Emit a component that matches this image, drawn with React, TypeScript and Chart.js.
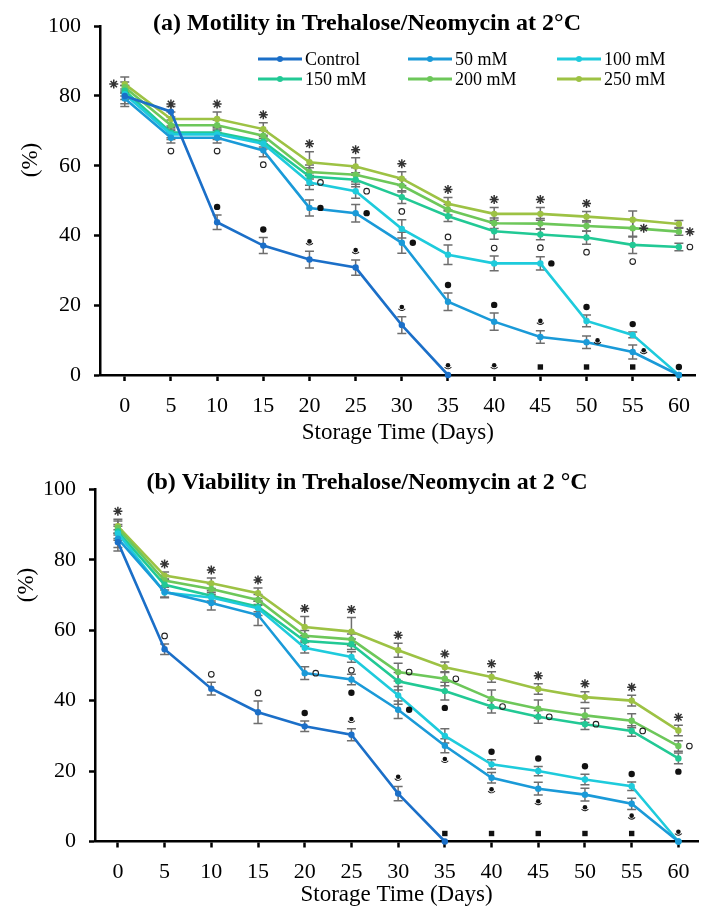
import React, { useEffect, useRef } from 'react';
import { Chart, registerables } from 'chart.js';

Chart.register(...registerables);

const FONT = "'Liberation Serif', 'Times New Roman', Times, serif";

// ---------------- data ----------------
const days = [0, 5, 10, 15, 20, 25, 30, 35, 40, 45, 50, 55, 60];
const seriesNames = ['Control', '50 mM', '100 mM', '150 mM', '200 mM', '250 mM'];
const seriesColors = ['#1b6fc8', '#1a9ad8', '#1ecbdc', '#22c995', '#6dc75a', '#9dc244'];
const yTicks = [0, 20, 40, 60, 80, 100];

// (a) Motility
const motControl = [80, 75.5, 43.8, 37.1, 33.1, 30.8, 14.3, 0, null, null, null, null, null];
const mot50 = [79.3, 68, 68, 64.4, 47.9, 46.4, 37.9, 21, 15.3, 10.9, 9.4, 6.6, 0];
const mot100 = [80.5, 69, 69, 66.3, 55.2, 52.7, 41.9, 34.5, 32, 32, 15.5, 11.5, 0];
const mot150 = [81.5, 69.5, 69.5, 66.9, 56.9, 56, 51, 45.5, 41.2, 40.3, 39.4, 37.3, 36.7];
const mot200 = [82.5, 71.6, 71.6, 68.6, 58.2, 57.4, 54.3, 47.4, 43.5, 43.4, 42.7, 42.1, 41.1];
const mot250 = [83.4, 73.4, 73.4, 70.5, 61, 59.8, 56.3, 49.1, 46.2, 46.2, 45.4, 44.5, 43.3];

const errA_Control = [3, 1.5, 2.1, 2.3, 2.4, 2.2, 2.4, 0, 0, 0, 0, 0, 0];
const errA_50 = [1.5, 1.5, 1.5, 1.8, 2.3, 2.5, 3, 2.5, 2.5, 1.8, 1.8, 2, 0];
const errA_100 = [1.5, 1.5, 1.5, 1.5, 2, 2, 2.6, 2.8, 2.1, 1.9, 1.7, 0.8, 0];
const errA_150 = [1.5, 1.5, 1.5, 1.5, 2.5, 2, 1.8, 1.5, 2.3, 1.5, 1.9, 2.5, 1.1];
const errA_200 = [1.5, 1.5, 1.5, 1.5, 2, 2, 1.8, 1.5, 1.5, 1.5, 1.5, 2.5, 1];
const errA_250 = [2, 2, 2, 1.8, 3, 2.5, 2, 1.8, 1.8, 1.8, 1.5, 2.5, 1];

// significance marks: S star, O open circle, D dot, A dot-arc, Q square; a above, b below, r right, l left
const markA_Control = ['', '', 'Da', 'Da', 'Aa', 'Aa', 'Aa', 'Aa', 'Aa', 'Qa', 'Qa', 'Qa', ''];
const markA_50 = ['', 'Ob', 'Ob', 'Ob', 'Dr', 'Dr', 'Dr', 'Da', 'Da', 'Aa', 'Ar', 'Ar', ''];
const markA_100 = ['', '', '', '', 'Or', 'Or', '', 'Oa', 'Oa', 'Dr', 'Da', 'Da', 'Da'];
const markA_150 = ['', '', '', '', '', '', 'Ob', '', '', 'Ob', 'Ob', 'Ob', 'Or'];
const markA_200 = ['', '', '', '', '', '', '', '', '', '', '', 'Sr', 'Sr'];
const markA_250 = ['Sl', 'Sa', 'Sa', 'Sa', 'Sa', 'Sa', 'Sa', 'Sa', 'Sa', 'Sa', 'Sa', '', ''];

// (b) Viability
const vibControl = [85, 54.6, 43.4, 36.7, 32.7, 30.3, 13.6, 0, null, null, null, null, null];
const vib50 = [86, 70.9, 67.7, 64.3, 47.8, 46, 37.4, 27.2, 18.1, 15, 13.3, 10.7, 0];
const vib100 = [87.5, 70.7, 69.3, 66.2, 55, 52.4, 41.5, 30, 21.9, 20, 17.6, 15.7, 0];
const vib150 = [88, 72.9, 69.8, 66.7, 56.9, 56, 45.5, 42.7, 38.3, 35.4, 33.3, 31.4, 23.6];
const vib200 = [89, 74.1, 71.7, 68.6, 58.4, 57.4, 48.1, 46.2, 40.5, 37.7, 35.8, 34.3, 27.1];
const vib250 = [89.5, 75.5, 73.3, 70.5, 60.9, 59.6, 54.3, 49.5, 46.7, 43.3, 41, 40, 31.5];

const errB_Control = [2.5, 1.5, 1.8, 3.2, 1.5, 1.7, 2, 0, 0, 0, 0, 0, 0];
const errB_50 = [2.5, 1.5, 2, 3, 1.8, 1.5, 2.5, 2, 1.5, 1.8, 1.8, 1.6, 0];
const errB_100 = [2, 1.5, 1.5, 2, 1.5, 1.5, 2.5, 2, 1.3, 1.3, 1.5, 1.2, 0];
const errB_150 = [2, 1.5, 1.5, 1.5, 1.5, 1.5, 2.5, 2.5, 1.8, 1.8, 1.5, 1.5, 1.5];
const errB_200 = [2, 1.5, 1.5, 1.5, 1.5, 1.5, 2.5, 2, 2.5, 2.5, 2, 2, 1.5];
const errB_250 = [2, 1, 1.5, 1.5, 3, 4, 2, 1.5, 1.5, 1.5, 1.5, 1.5, 1.5];

const markB_Control = ['', 'Oa', 'Oa', 'Oa', 'Da', 'Aa', 'Aa', 'Qa', 'Qa', 'Qa', 'Qa', 'Qa', 'Aa'];
const markB_50 = ['', '', '', '', 'Or', 'Db', 'Dr', 'Ab', 'Ab', 'Ab', 'Ab', 'Ab', ''];
const markB_100 = ['', '', '', '', '', 'Ob', '', '', 'Da', 'Da', 'Da', 'Da', ''];
const markB_150 = ['', '', '', '', '', '', '', 'Db', 'Or', 'Or', 'Or', 'Or', 'Db'];
const markB_200 = ['', '', '', '', '', '', 'Or', 'Or', '', '', '', '', 'Or'];
const markB_250 = ['Sa', 'Sa', 'Sa', 'Sa', 'Sa', 'Sa', 'Sa', 'Sa', 'Sa', 'Sa', 'Sa', 'Sa', 'Sa'];

// ---------------- drawing helpers ----------------
function drawMark(ctx: CanvasRenderingContext2D, sym: string, x: number, y: number) {
  ctx.save();
  ctx.fillStyle = '#111';
  ctx.strokeStyle = '#222';
  if (sym === 'S') {
    ctx.strokeStyle = '#333';
    ctx.lineWidth = 1.5;
    const r = 4.5;
    ctx.beginPath();
    for (let k = 0; k < 4; k++) {
      const a = (k * Math.PI) / 4;
      ctx.moveTo(x - r * Math.cos(a), y - r * Math.sin(a));
      ctx.lineTo(x + r * Math.cos(a), y + r * Math.sin(a));
    }
    ctx.stroke();
  } else if (sym === 'O') {
    ctx.lineWidth = 1.1;
    ctx.beginPath();
    ctx.arc(x, y, 2.8, 0, Math.PI * 2);
    ctx.stroke();
  } else if (sym === 'D') {
    ctx.beginPath();
    ctx.arc(x, y, 3.2, 0, Math.PI * 2);
    ctx.fill();
  } else if (sym === 'A') {
    ctx.beginPath();
    ctx.arc(x, y - 1.8, 2.3, 0, Math.PI * 2);
    ctx.fill();
    ctx.lineWidth = 1.1;
    ctx.beginPath();
    ctx.arc(x, y - 2.5, 4.2, 0.2 * Math.PI, 0.8 * Math.PI);
    ctx.stroke();
  } else if (sym === 'Q') {
    ctx.fillRect(x - 2.7, y - 2.7, 5.4, 5.4);
  }
  ctx.restore();
}

type Panel = {
  width: number;
  height: number;
  values: (number | null)[][];
  errors: number[][];
  marks: string[][];
  title: string;
  titleX: number;
  titleY: number;
  yTitleX: number;
  yTitleY: number;
  plotTop: number;
  axisLeft: number;
  xMin: number;
  xMax: number;
  xHeight: number;
  xTitlePad: number;
  xTitleLineHeight: number;
  legend: boolean;
};

function makeConfig(p: Panel): any {
  const decor = {
    id: 'decor',
    beforeDatasetsDraw(chart: any) {
      const ctx = chart.ctx as CanvasRenderingContext2D;
      const xs = chart.scales.x;
      const ys = chart.scales.y;
      ctx.save();
      ctx.strokeStyle = '#6e6e6e';
      ctx.lineWidth = 1.5;
      p.values.forEach((vals, i) => {
        vals.forEach((v, j) => {
          const e = p.errors[i][j];
          if (v === null || !e) return;
          const x = xs.getPixelForValue(days[j]);
          const yt = ys.getPixelForValue(v + e);
          const yb = ys.getPixelForValue(v - e);
          ctx.beginPath();
          ctx.moveTo(x, yt);
          ctx.lineTo(x, yb);
          ctx.moveTo(x - 4.5, yt);
          ctx.lineTo(x + 4.5, yt);
          ctx.moveTo(x - 4.5, yb);
          ctx.lineTo(x + 4.5, yb);
          ctx.stroke();
        });
      });
      ctx.restore();
    },
    afterDatasetsDraw(chart: any) {
      const ctx = chart.ctx as CanvasRenderingContext2D;
      const xs = chart.scales.x;
      const ys = chart.scales.y;
      p.marks.forEach((row, i) => {
        row.forEach((code, j) => {
          if (!code) return;
          const sym = code[0];
          const place = code[1];
          const v = p.values[i][j] ?? 0;
          const e = p.errors[i][j] ?? 0;
          const xp = xs.getPixelForValue(days[j]);
          let x = xp;
          let y = ys.getPixelForValue(v);
          if (place === 'a') y = ys.getPixelForValue(v + e) - 8;
          else if (place === 'b') y = ys.getPixelForValue(v - e) + 8;
          else if (place === 'r') x = xp + 11;
          else if (place === 'l') x = xp - 11;
          drawMark(ctx, sym, x, y);
        });
      });
    },
    afterDraw(chart: any) {
      const ctx = chart.ctx as CanvasRenderingContext2D;
      ctx.save();
      // main title
      ctx.fillStyle = '#000';
      ctx.font = `bold 24px ${FONT}`;
      ctx.textAlign = 'center';
      ctx.textBaseline = 'alphabetic';
      ctx.fillText(p.title, p.titleX, p.titleY);
      // y title
      ctx.save();
      ctx.translate(p.yTitleX, p.yTitleY);
      ctx.rotate(-Math.PI / 2);
      ctx.font = `23px ${FONT}`;
      ctx.textBaseline = 'middle';
      ctx.fillText('(%)', 0, 0);
      ctx.restore();
      // legend
      if (p.legend) {
        const cols = [258, 408, 557];
        const rows = [59, 79];
        ctx.font = `18px ${FONT}`;
        ctx.textAlign = 'left';
        ctx.textBaseline = 'middle';
        chart.data.datasets.forEach((ds: any, i: number) => {
          const x0 = cols[i % 3];
          const y0 = rows[Math.floor(i / 3)];
          ctx.strokeStyle = ds.borderColor;
          ctx.lineWidth = 3;
          ctx.beginPath();
          ctx.moveTo(x0, y0);
          ctx.lineTo(x0 + 44, y0);
          ctx.stroke();
          ctx.fillStyle = ds.borderColor;
          ctx.beginPath();
          ctx.arc(x0 + 22, y0, 3, 0, Math.PI * 2);
          ctx.fill();
          ctx.fillStyle = '#000';
          ctx.fillText(ds.label, x0 + 47, y0 + 1);
        });
      }
      ctx.restore();
    },
  };

  return {
    type: 'line',
    data: {
      datasets: p.values.map((vals, i) => ({
        label: seriesNames[i],
        data: vals.map((v, j) => ({ x: days[j], y: v })),
        borderColor: seriesColors[i],
        backgroundColor: seriesColors[i],
        pointBackgroundColor: seriesColors[i],
        pointBorderWidth: 0,
        pointRadius: 3.2,
        borderWidth: 2.6,
        tension: 0,
        clip: false,
        spanGaps: false,
      })),
    },
    options: {
      responsive: false,
      animation: false,
      layout: { padding: { top: p.plotTop, left: 0, right: 0, bottom: 0 } },
      plugins: {
        legend: { display: false },
        title: { display: false },
        tooltip: { enabled: false },
      },
      scales: {
        x: {
          type: 'linear',
          min: p.xMin,
          max: p.xMax,
          afterBuildTicks: (scale: any) => {
            scale.ticks = days.map((d) => ({ value: d }));
          },
          afterFit: (scale: any) => {
            scale.height = p.xHeight;
          },
          ticks: {
            color: '#000',
            font: { family: FONT, size: 22 },
            padding: 12,
            maxRotation: 0,
            autoSkip: false,
            callback: (v: any) => String(v),
          },
          grid: {
            display: true,
            drawOnChartArea: false,
            drawTicks: true,
            tickLength: 6,
            tickWidth: 2.5,
            tickColor: '#000',
          },
          border: { display: true, color: '#000', width: 2.5 },
          title: {
            display: true,
            text: 'Storage Time (Days)',
            color: '#000',
            font: { family: FONT, size: 23, lineHeight: p.xTitleLineHeight },
            padding: { top: 0, bottom: p.xTitlePad },
          },
        },
        y: {
          min: 0,
          max: 100,
          afterBuildTicks: (scale: any) => {
            scale.ticks = yTicks.map((d) => ({ value: d }));
          },
          afterFit: (scale: any) => {
            scale.width = p.axisLeft;
          },
          ticks: {
            color: '#000',
            font: { family: FONT, size: 22 },
            padding: 13,
          },
          grid: {
            display: true,
            drawOnChartArea: false,
            drawTicks: true,
            tickLength: 6,
            tickWidth: 2.5,
            tickColor: '#000',
          },
          border: { display: true, color: '#000', width: 2.5 },
        },
      },
    },
    plugins: [decor],
  };
}

const panelA: Panel = {
  width: 702,
  height: 455,
  values: [motControl, mot50, mot100, mot150, mot200, mot250],
  errors: [errA_Control, errA_50, errA_100, errA_150, errA_200, errA_250],
  marks: [markA_Control, markA_50, markA_100, markA_150, markA_200, markA_250],
  title: '(a) Motility in Trehalose/Neomycin at 2°C',
  titleX: 367,
  titleY: 30,
  yTitleX: 31,
  yTitleY: 160,
  plotTop: 26,
  axisLeft: 100,
  xMin: -2.68,
  xMax: 61.82,
  xHeight: 80,
  xTitlePad: 8,
  xTitleLineHeight: 1.2,
  legend: true,
};

const panelB: Panel = {
  width: 702,
  height: 451,
  values: [vibControl, vib50, vib100, vib150, vib200, vib250],
  errors: [errB_Control, errB_50, errB_100, errB_150, errB_200, errB_250],
  marks: [markB_Control, markB_50, markB_100, markB_150, markB_200, markB_250],
  title: '(b) Viability in Trehalose/Neomycin at 2 °C',
  titleX: 367,
  titleY: 34,
  yTitleX: 27,
  yTitleY: 130,
  plotTop: 34.3,
  axisLeft: 95,
  xMin: -2.45,
  xMax: 62.1,
  xHeight: 64.5,
  xTitlePad: 0,
  xTitleLineHeight: 1.0,
  legend: false,
};

function ChartPanel({ panel }: { panel: Panel }) {
  const ref = useRef<HTMLCanvasElement>(null);
  useEffect(() => {
    if (!ref.current) return;
    const chart = new Chart(ref.current, makeConfig(panel));
    return () => chart.destroy();
  }, [panel]);
  return (
    <canvas
      ref={ref}
      width={panel.width}
      height={panel.height}
      style={{ display: 'block', width: panel.width, height: panel.height }}
    />
  );
}

export default function App() {
  return (
    <div style={{ position: 'absolute', left: 0, top: 0, width: 702, height: 906, background: '#fff' }}>
      <ChartPanel panel={panelA} />
      <ChartPanel panel={panelB} />
    </div>
  );
}
